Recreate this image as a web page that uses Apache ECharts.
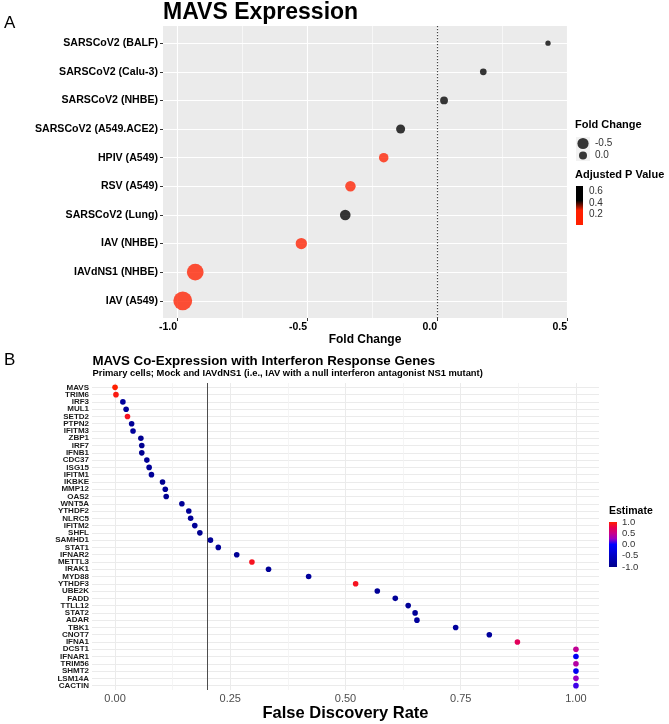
<!DOCTYPE html>
<html><head><meta charset="utf-8">
<script src="https://cdn.jsdelivr.net/npm/echarts@6/dist/echarts.min.js"></script>
<style>html,body{margin:0;padding:0;background:#fff}#c{width:669px;height:724px}</style>
</head><body><div id="c"></div>
<script>
// ---------------- DATA ----------------
const conditionsA = ['SARSCoV2 (BALF)','SARSCoV2 (Calu-3)','SARSCoV2 (NHBE)','SARSCoV2 (A549.ACE2)','HPIV (A549)','RSV (A549)','SARSCoV2 (Lung)','IAV (NHBE)','IAVdNS1 (NHBE)','IAV (A549)'];
const foldChangeA = [0.427, 0.178, 0.027, -0.140, -0.205, -0.333, -0.353, -0.522, -0.930, -0.978];
const adjPValueA = [0.70, 0.62, 0.58, 0.50, 0.18, 0.15, 0.47, 0.10, 0.04, 0.02];
const xTicksA = [-1.0, -0.5, 0.0, 0.5];
const xMinorA = [-0.75, -0.25, 0.25];
const sizeLegendA = [-0.5, 0.0];
const pLegendTicksA = [0.6, 0.4, 0.2];

const genesB = ['MAVS','TRIM6','IRF3','MUL1','SETD2','PTPN2','IFITM3','ZBP1','IRF7','IFNB1','CDC37','ISG15','IFITM1','IKBKE','MMP12','OAS2','WNT5A','YTHDF2','NLRC5','IFITM2','SHFL','SAMHD1','STAT1','IFNAR2','METTL3','IRAK1','MYD88','YTHDF3','UBE2K','FADD','TTLL12','STAT2','ADAR','TBK1','CNOT7','IFNA1','DCST1','IFNAR1','TRIM56','SHMT2','LSM14A','CACTIN'];
const fdrB = [0.000,0.002,0.017,0.024,0.027,0.036,0.039,0.056,0.058,0.058,0.069,0.074,0.079,0.103,0.109,0.111,0.145,0.160,0.164,0.173,0.184,0.207,0.224,0.264,0.297,0.333,0.420,0.522,0.569,0.608,0.636,0.651,0.655,0.739,0.812,0.873,1.000,1.000,1.000,1.000,1.000,1.000];
const estimateB = [1.00,0.95,-0.85,-0.90,0.90,-0.90,-0.85,-0.95,-0.95,-0.95,-0.90,-0.90,-0.90,-0.95,-0.90,-0.95,-0.90,-0.90,-0.90,-0.90,-0.95,-0.90,-0.90,-0.90,0.90,-0.90,-0.85,0.90,-0.90,-0.90,-0.90,-0.90,-0.85,-0.85,-0.85,0.70,0.45,-0.10,0.38,-0.10,0.25,0.10];
const xTicksB = [0, 0.25, 0.5, 0.75, 1.0];
const xMinorB = [0.125, 0.375, 0.625, 0.875];
const estLegendTicksB = [1.0, 0.5, 0.0, -0.5, -1.0];
const fdrThresholdB = 0.2;

// ---------------- STYLE ----------------
const FONT = '"Liberation Sans", Arial, sans-serif';
const P_MIN = 0.02, P_MAX = 0.70;
const P_COLORS = ['#FF2000','#FF2000','#FF2000','#FF2000','#7A1000','#000000','#000000','#000000','#000000'];
const EST_COLORS = ['#00008B','#0000A8','#0000C4','#0000E2','#0000FF','#9A00C2','#CA0088','#E8004F','#FF2000'];
// size scale (diameter in px) for fold change
const SIZE_STOPS = [[0.45,5.2],[0.18,6.7],[0.0,8.0],[-0.35,10.6],[-0.52,11.3],[-0.93,16.7],[-1.0,19.8]];
function sizeFor(v){
  const s = SIZE_STOPS;
  if (v >= s[0][0]) return s[0][1];
  for (let i=1;i<s.length;i++){
    if (v >= s[i][0]) { const t=(s[i-1][0]-v)/(s[i-1][0]-s[i][0]); return s[i-1][1]+t*(s[i][1]-s[i-1][1]); }
  }
  return s[s.length-1][1];
}
function gradStops(colors){ // top = last colour
  const n = colors.length;
  return colors.slice().reverse().map((c,i)=>({offset:i/(n-1), color:c}));
}

const chart = echarts.init(document.getElementById('c'));
const idxA = conditionsA.map((_, i) => i);
const idxB = genesB.map((_, i) => i);
// gene labels are split over two overlapping axes so that no label is auto-hidden
const idxBEven = idxB.filter(i => i % 2 === 0);
const idxBOdd = idxB.filter(i => i % 2 === 1);

// legend geometry
const barA = {x:576, y:186, w:7, h:39};
const barB = {x:609, y:522, w:8, h:45};
const yForP = v => barA.y + (P_MAX - v) / (P_MAX - P_MIN) * barA.h;
const yForE = v => barB.y + (1 - v) / 2 * barB.h;

const graphics = [
  {type:'text', x:4, y:23, style:{text:'A', font:'17px ' + FONT, fill:'#000', textVerticalAlign:'middle', verticalAlign:'middle'}},
  {type:'text', x:4, y:360, style:{text:'B', font:'17px ' + FONT, fill:'#000', textVerticalAlign:'middle', verticalAlign:'middle'}},
  {type:'text', x:163, y:12.5, style:{text:'MAVS Expression', font:'bold 23px ' + FONT, fill:'#000', textVerticalAlign:'middle', verticalAlign:'middle'}},
  {type:'text', x:92.5, y:361.5, style:{text:'MAVS Co-Expression with Interferon Response Genes', font:'bold 13.3px ' + FONT, fill:'#000', textVerticalAlign:'middle', verticalAlign:'middle'}},
  {type:'text', x:92.5, y:373.5, style:{text:'Primary cells; Mock and IAVdNS1 (i.e., IAV with a null interferon antagonist NS1 mutant)', font:'bold 9.4px ' + FONT, fill:'#000', textVerticalAlign:'middle', verticalAlign:'middle'}},
  // legend A: size
  {type:'text', x:575, y:125, style:{text:'Fold Change', font:'bold 11px ' + FONT, fill:'#000', textVerticalAlign:'middle', verticalAlign:'middle'}},
  {type:'rect', shape:{x:576, y:137, width:14, height:24}, style:{fill:'#F2F2F2'}},
  // legend A: colour
  {type:'text', x:575, y:175, style:{text:'Adjusted P Value', font:'bold 11px ' + FONT, fill:'#000', textVerticalAlign:'middle', verticalAlign:'middle'}},
  {type:'rect', shape:{x:barA.x, y:barA.y, width:barA.w, height:barA.h}, style:{fill:new echarts.graphic.LinearGradient(0,0,0,1,gradStops(P_COLORS))}},
  // legend B
  {type:'text', x:609, y:511.5, style:{text:'Estimate', font:'bold 10.5px ' + FONT, fill:'#000', textVerticalAlign:'middle', verticalAlign:'middle'}},
  {type:'rect', shape:{x:barB.x, y:barB.y, width:barB.w, height:barB.h}, style:{fill:new echarts.graphic.LinearGradient(0,0,0,1,gradStops(EST_COLORS))}}
];
sizeLegendA.forEach((v, i) => {
  const cy = 143.5 + i * 12;
  graphics.push({type:'circle', shape:{cx:583, cy:cy, r:sizeFor(v)/2}, style:{fill:'#000', opacity:0.78}});
  graphics.push({type:'text', x:595, y:cy, style:{text:v.toFixed(1), font:'10px ' + FONT, fill:'#333', textVerticalAlign:'middle', verticalAlign:'middle'}});
});
pLegendTicksA.forEach(v => {
  graphics.push({type:'text', x:589, y:yForP(v), style:{text:v.toFixed(1), font:'10px ' + FONT, fill:'#333', textVerticalAlign:'middle', verticalAlign:'middle'}});
});
estLegendTicksB.forEach(v => {
  graphics.push({type:'text', x:622, y:yForE(v), style:{text:v.toFixed(1), font:'9.5px ' + FONT, fill:'#333', textVerticalAlign:'middle', verticalAlign:'middle'}});
});

function geneAxis(vals){
  return {gridIndex:1, type:'value', min:-0.6, max:41.6, inverse:true, position:'left', offset:0,
    axisLine:{show:false, onZero:false},
    axisTick:{show:false, customValues:vals},
    axisLabel:{customValues:vals, showMinLabel:true, showMaxLabel:true, hideOverlap:false, formatter:v=>genesB[Math.round(v)], fontFamily:FONT, fontWeight:'bold', fontSize:8, color:'#1A1A1A', margin:3},
    splitLine:{show:true, lineStyle:{color:'#EBEBEB', width:1}}};
}

const option = {
  animation:false,
  backgroundColor:'#fff',
  grid:[
    {left:163, top:26, width:404, height:292, show:true, backgroundColor:'#EBEBEB', borderWidth:0},
    {left:92, top:383, width:507, height:307, show:false}
  ],
  xAxis:[
    {gridIndex:0, type:'value', min:-1.054, max:0.5, position:'bottom',
     axisLine:{show:false, onZero:false},
     axisTick:{show:true, length:3, customValues:xTicksA, lineStyle:{color:'#333'}},
     axisLabel:{customValues:xTicksA, showMinLabel:true, showMaxLabel:true, formatter:v=>Number(v).toFixed(1), fontFamily:FONT, fontWeight:'bold', fontSize:10.5, color:'#000', align:'right', margin:4},
     splitLine:{show:true, lineStyle:{color:'#FFFFFF', width:1.1}},
     name:'Fold Change', nameLocation:'middle', nameGap:12,
     nameTextStyle:{fontFamily:FONT, fontWeight:'bold', fontSize:12, color:'#000'}},
    {gridIndex:0, type:'value', min:-1.054, max:0.5, position:'bottom',
     axisLine:{show:false, onZero:false}, axisTick:{show:false, customValues:xMinorA}, axisLabel:{show:false, customValues:xMinorA},
     splitLine:{show:true, lineStyle:{color:'#FFFFFF', width:0.6}}},
    {gridIndex:1, type:'value', min:-0.05, max:1.05, position:'bottom',
     axisLine:{show:false, onZero:false},
     axisTick:{show:false, customValues:xTicksB},
     axisLabel:{customValues:xTicksB, showMinLabel:true, showMaxLabel:true, formatter:v=>Number(v).toFixed(2), fontFamily:FONT, fontSize:11, color:'#4D4D4D', margin:3},
     splitLine:{show:true, lineStyle:{color:'#EBEBEB', width:1}},
     name:'False Discovery Rate', nameLocation:'middle', nameGap:12,
     nameTextStyle:{fontFamily:FONT, fontWeight:'bold', fontSize:16.5, color:'#000'}},
    {gridIndex:1, type:'value', min:-0.05, max:1.05, position:'bottom',
     axisLine:{show:false, onZero:false}, axisTick:{show:false, customValues:xMinorB}, axisLabel:{show:false, customValues:xMinorB},
     splitLine:{show:true, lineStyle:{color:'#F2F2F2', width:0.8}}}
  ],
  yAxis:[
    {gridIndex:0, type:'value', min:-0.6, max:9.6, inverse:true, position:'left',
     axisLine:{show:false, onZero:false},
     axisTick:{show:true, length:3, customValues:idxA, lineStyle:{color:'#333'}},
     axisLabel:{customValues:idxA, showMinLabel:true, showMaxLabel:true, formatter:v=>conditionsA[Math.round(v)], fontFamily:FONT, fontWeight:'bold', fontSize:10.6, color:'#000', margin:5},
     splitLine:{show:true, lineStyle:{color:'#FFFFFF', width:1.1}}},
    geneAxis(idxBEven),
    geneAxis(idxBOdd)
  ],
  visualMap:[
    {type:'continuous', show:false, seriesIndex:0, dimension:2, min:P_MIN, max:P_MAX, inRange:{color:P_COLORS}},
    {type:'continuous', show:false, seriesIndex:1, dimension:2, min:-1, max:1, inRange:{color:EST_COLORS}}
  ],
  series:[
    {type:'scatter', xAxisIndex:0, yAxisIndex:0, z:3,
     data:foldChangeA.map((v,i)=>[v, i, adjPValueA[i]]),
     symbolSize:d=>sizeFor(d[0]),
     itemStyle:{opacity:0.78},
     markLine:{silent:true, symbol:'none', label:{show:false}, z:2,
       lineStyle:{type:[1.2,1.8], color:'#444', width:1.2}, data:[{xAxis:0}]}},
    {type:'scatter', xAxisIndex:2, yAxisIndex:1, z:3,
     data:fdrB.map((v,i)=>[v, i, estimateB[i]]),
     symbolSize:5.6,
     itemStyle:{opacity:1},
     markLine:{silent:true, symbol:'none', label:{show:false}, z:2,
       lineStyle:{type:'solid', color:'#4D4D4D', width:1}, data:[{xAxis:fdrThresholdB}]}}
  ],
  graphic:graphics
};
chart.setOption(option);
</script></body></html>
